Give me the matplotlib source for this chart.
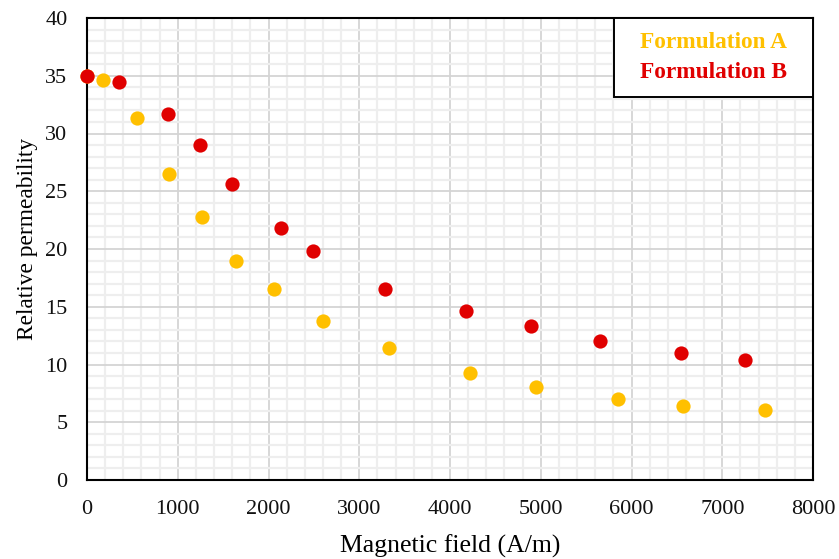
import matplotlib
matplotlib.use("Agg")
import matplotlib.pyplot as plt
from matplotlib.ticker import MultipleLocator
from matplotlib.patches import Rectangle

plt.rcParams['font.family'] = ['Liberation Serif', 'DejaVu Serif']

ax_x = [0, 180, 550, 900, 1265, 1640, 2060, 2600, 3325, 4220, 4945, 5850, 6570, 7470]
ax_y = [35.0, 34.6, 31.3, 26.5, 22.8, 19.0, 16.5, 13.8, 11.45, 9.3, 8.05, 7.0, 6.45, 6.05]
bx_x = [0, 350, 895, 1245, 1600, 2140, 2490, 3285, 4175, 4895, 5655, 6545, 7250]
bx_y = [35.0, 34.5, 31.65, 29.0, 25.6, 21.85, 19.8, 16.5, 14.6, 13.3, 12.05, 11.0, 10.35]

labels = ["Formulation A", "Formulation B"]
colors = ["#FFC000", "#E00000"]

fig = plt.figure(figsize=(8.39, 5.59), dpi=100)
ax = fig.add_axes([87/839, 1-480/559, (813-87)/839, (480-18)/559])

ax.scatter(ax_x, ax_y, s=105, color=colors[0], zorder=3, clip_on=False, linewidths=0)
ax.scatter(bx_x, bx_y, s=105, color=colors[1], zorder=4, clip_on=False, linewidths=0)

ax.set_xlim(0, 8000)
ax.set_ylim(0, 40)
ax.xaxis.set_major_locator(MultipleLocator(1000))
ax.xaxis.set_minor_locator(MultipleLocator(200))
ax.yaxis.set_major_locator(MultipleLocator(5))
ax.yaxis.set_minor_locator(MultipleLocator(1))
ax.grid(which='major', color='#D4D4D4', linewidth=1.3, zorder=0)
ax.grid(which='minor', color='#EEEEEE', linewidth=1.6, zorder=0)
ax.set_axisbelow(True)
ax.tick_params(which='both', length=0, labelsize=16, colors='#111111')
ax.tick_params(axis='x', pad=14.5)
ax.tick_params(axis='y', pad=14)
for s in ax.spines.values():
    s.set_color('black')
    s.set_linewidth(1.5)

ax.set_xlabel("Magnetic field (A/m)", fontsize=18.5, labelpad=11)
ax.set_ylabel("Relative permeability", fontsize=16.8)
ax.yaxis.set_label_coords((38 - 87) / 726, (480 - 239) / 462)

# legend box (text-only legend, as in the reference)
x0 = (614 - 87) / 726
y0 = (480 - 97) / 462
ax.add_patch(Rectangle((x0, y0), 1 - x0, 1 - y0, transform=ax.transAxes,
                       facecolor='white', edgecolor='black', linewidth=1.4,
                       zorder=10, clip_on=False))
cx = (714 - 87) / 726
for lab, col, py in zip(labels, colors, [43, 72]):
    ax.text(cx, (480 - py) / 462, lab, color=col, fontsize=16.8, fontweight='bold',
            ha='center', va='center', transform=ax.transAxes, zorder=11)

fig.savefig("out.png", dpi=100)
